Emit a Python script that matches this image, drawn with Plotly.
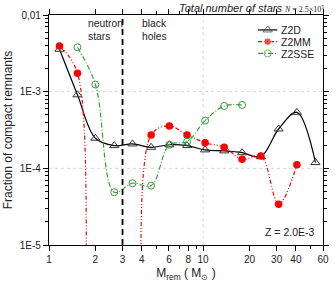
import plotly.graph_objects as go

# ---------------- data ----------------
mass_d = [1.17, 1.53, 2.0, 2.65, 3.48, 4.6, 6.04, 7.87, 10.3, 13.7, 17.9, 23.7, 30.9, 40.6, 53.6]
frac_d = [3.57e-3, 9.1e-4, 2.47e-4, 1.98e-4, 2.08e-4, 1.88e-4, 2.03e-4, 1.98e-4,
          1.74e-4, 1.69e-4, 1.60e-4, 1.42e-4, 3.26e-4, 5.38e-4, 1.19e-4]

mass_mm = [1.17, 1.53, 2.0, 2.65, 3.48, 4.6, 6.04, 7.87, 10.3, 13.7, 17.9, 23.7, 30.9, 40.6]
frac_mm = [3.94e-3, 1.74e-3, 2e-10, 1e-10, 1e-10, 2.72e-4, 3.57e-4, 2.72e-4,
           2.16e-4, 1.88e-4, 1.31e-4, 1.45e-4, 3.4e-5, 1.11e-4]

mass_sse = [1.53, 2.0, 2.65, 3.48, 4.6, 6.04, 7.87, 10.3, 13.7, 17.9]
frac_sse = [3.79e-3, 1.24e-3, 4.88e-5, 6.39e-5, 5.95e-5, 2.03e-4, 2.23e-4,
            4.19e-4, 6.51e-4, 6.71e-4]

series_names = ["Z2D", "Z2MM", "Z2SSE"]

x_ticks = [1, 2, 3, 4, 6, 8, 10, 20, 30, 40, 60]
x_minor = [5, 7, 9, 50]
y_ticks = [1e-2, 1e-3, 1e-4, 1e-5]
y_ticktext = ["0,01", "1E-3", "1E-4", "1E-5"]

ns_bh_boundary = 3

# ---------------- styles ----------------
FONT = "Liberation Sans, Arial, sans-serif"
C_D = "#000000"
C_MM = "#ff0000"
C_SSE = "#3a9a3a"
DASH_MM = "4px,2px,1px,2px,1px,2px"
DASH_SSE = "5px,2px,1px,2px"

styles = {
    "Z2D": dict(line=dict(color=C_D, width=1.2, dash="solid", shape="spline", smoothing=1),
                marker=dict(symbol="triangle-up-open", size=8, color="#333333", line=dict(width=1))),
    "Z2MM": dict(line=dict(color=C_MM, width=1.2, dash=DASH_MM, shape="spline", smoothing=1),
                 marker=dict(symbol="circle", size=7.5, color=C_MM)),
    "Z2SSE": dict(line=dict(color=C_SSE, width=1.2, dash=DASH_SSE, shape="spline", smoothing=1),
                  marker=dict(symbol="circle-open", size=7, color=C_SSE, line=dict(width=1))),
}

fig = go.Figure()
for name, xs, ys in [("Z2D", mass_d, frac_d), ("Z2MM", mass_mm, frac_mm), ("Z2SSE", mass_sse, frac_sse)]:
    st = styles[name]
    fig.add_trace(go.Scatter(x=xs, y=ys, mode="lines+markers", name=name,
                             line=st["line"], marker=st["marker"], showlegend=False))

# manual legend on a hidden overlay axis (paper-like 0..1 space)
leg_x = [0.763, 0.798, 0.833]
leg_y = [0.935, 0.884, 0.833]
for name, ly in zip(series_names, leg_y):
    st = styles[name]
    ln = dict(st["line"]); ln["shape"] = "linear"
    fig.add_trace(go.Scatter(x=leg_x, y=[ly] * 3, mode="lines+markers", xaxis="x2", yaxis="y2",
                             line=ln, marker=dict(st["marker"], size=[0, st["marker"]["size"], 0]),
                             showlegend=False, hoverinfo="skip"))
    fig.add_annotation(x=0.844, y=ly, xref="x2", yref="y2", text=name, showarrow=False,
                       xanchor="left", yanchor="middle", height=11, borderpad=0,
                       font=dict(family=FONT, size=10.5, color="#222222"))

# grid lines (dotted) and NS/BH boundary
fig.add_shape(type="line", xref="x", yref="paper", x0=10, x1=10, y0=0, y1=1,
              line=dict(color="#cccccc", width=0.8, dash="dot"), layer="below")
for yv in [1e-3, 1e-4]:
    fig.add_shape(type="line", xref="paper", yref="y", x0=0, x1=1, y0=yv, y1=yv,
                  line=dict(color="#cccccc", width=0.8, dash="dot"), layer="below")
fig.add_shape(type="line", xref="x", yref="paper", x0=ns_bh_boundary, x1=ns_bh_boundary, y0=0, y1=1,
              line=dict(color="#000000", width=1.8, dash="6px,4px"))

txt_font = dict(family=FONT, size=10.3, color="#222222")
for txt, ax in [("neutron<br>stars", 0.137), ("black<br>holes", 0.336)]:
    fig.add_annotation(x=ax, y=0.935, xref="paper", yref="paper", text=txt, showarrow=False,
                       xanchor="left", yanchor="middle", align="left", borderpad=0, font=txt_font)
fig.add_annotation(x=0.976, y=0.058, xref="paper", yref="paper", text="Z = 2.0E-3", showarrow=False,
                   xanchor="right", yanchor="middle", font=dict(family=FONT, size=10.5, color="#222222"))
fig.add_annotation(x=1.006, y=1.03, xref="paper", yref="paper",
                   text="<i>Total number of stars</i> <span style='font-family:Liberation Serif, Times New Roman, serif;font-size:8px'><i>N</i> = 2.5×10<sup>5</sup></span>",
                   showarrow=False, xanchor="right", yanchor="middle", borderpad=0,
                   font=dict(family=FONT, size=11, color="#222222"))

axis_common = dict(showline=True, linecolor="black", linewidth=1.2, mirror="ticks",
                   ticks="outside", ticklen=5, tickwidth=1, tickcolor="black",
                   showgrid=False, zeroline=False,
                   tickfont=dict(family=FONT, size=10, color="#222222"))

fig.update_layout(
    width=336, height=285,
    margin=dict(l=45, r=7, t=15, b=40),
    paper_bgcolor="white", plot_bgcolor="white",
    xaxis=dict(type="log", range=[0, 1.778], tickvals=x_ticks, ticktext=[str(v) for v in x_ticks],
               minor=dict(tickvals=x_minor, ticklen=3, ticks="outside", tickcolor="black", showgrid=False),
               title=dict(text="M<sub>rem</sub> ( M<sub>⊙</sub> )", font=dict(family=FONT, size=12, color="#222222"),
                          standoff=4),
               **axis_common),
    yaxis=dict(type="log", range=[-5, -2], tickvals=y_ticks, ticktext=y_ticktext,
               minor=dict(tickvals=[k * 10.0 ** e for e in (-5, -4, -3) for k in range(2, 10)],
                          ticklen=3, ticks="outside", tickcolor="black", showgrid=False),
               title=dict(text="Fraction of compact remnants", font=dict(family=FONT, size=12, color="#222222"),
                          standoff=4),
               **axis_common),
    xaxis2=dict(overlaying="x", range=[0, 1], visible=False, fixedrange=True),
    yaxis2=dict(overlaying="y", range=[0, 1], visible=False, fixedrange=True),
    showlegend=False,
)

fig.write_html("out.html", config={"displayModeBar": False},
               post_script="document.body.style.margin='0';document.body.style.padding='0';")
